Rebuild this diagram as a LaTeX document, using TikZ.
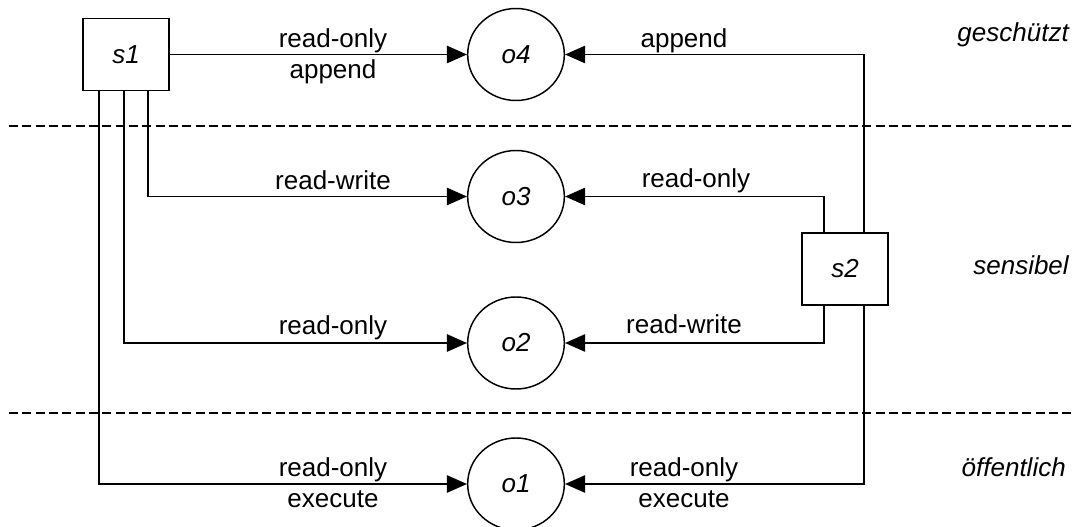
\documentclass[tikz,border=0pt]{standalone}
\usepackage{fontspec}
\setmainfont{Liberation Sans}
\usetikzlibrary{arrows.meta,shapes.geometric}

\tikzset{
  subj/.style={draw, line width=1.1pt, minimum width=64.5pt, minimum height=54pt,
               inner sep=0pt, font=\fontsize{19.5}{23}\selectfont\itshape},
  obj/.style={draw, ellipse, line width=1.1pt, minimum width=72.5pt, minimum height=69pt,
              inner sep=0pt, font=\fontsize{19.5}{23}\selectfont\itshape},
  conn/.style={line width=1.1pt, -{Triangle[length=15pt,width=13pt]}},
  lbl/.style={anchor=base, inner sep=0pt, font=\fontsize{19.5}{23}\selectfont},
  zone/.style={anchor=base east, inner sep=0pt, font=\fontsize{19.5}{23}\selectfont\itshape},
  sep/.style={line width=1.1pt, dash pattern=on 6.75pt off 3.25pt}
}

\begin{document}
\begin{tikzpicture}[x=0.75pt,y=-0.75pt]
  \useasboundingbox (0,0) rectangle (1074,527);

  % security levels
  \draw[sep] (9,126) -- (1074,126);
  \draw[sep] (9,413) -- (1074,413);
  \node[zone] (zg) at (1069,42) {geschützt};
  \node[zone] (zs) at (1069,275) {sensibel};
  \node[zone] (zo) at (1066,476) {öffentlich};

  % subjects
  \node[subj] (s1) at (126,54.5) {s1};
  \node[subj] (s2) at (845,269) {s2};

  % objects
  \node[obj] (o4) at (516,54.5) {o4};
  \node[obj] (o3) at (516,196.5) {o3};
  \node[obj] (o2) at (516,343) {o2};
  \node[obj] (o1) at (516,484) {o1};

  % accesses of s1
  \draw[conn] (s1.east) -- (o4.west);
  \draw[conn] ([xshift=16.5pt]s1.south) |- (o3.west);
  \draw[conn] ([xshift=-1.5pt]s1.south) |- (o2.west);
  \draw[conn] ([xshift=-20.25pt]s1.south) |- (o1.west);

  % accesses of s2
  \draw[conn] ([xshift=14.25pt]s2.north) |- (o4.east);
  \draw[conn] ([xshift=-15.75pt]s2.north) |- (o3.east);
  \draw[conn] ([xshift=-15.75pt]s2.south) |- (o2.east);
  \draw[conn] ([xshift=14.25pt]s2.south) |- (o1.east);

  % access rights
  \node[lbl] (a41) at (333,48) {read-only};
  \node[lbl] (a42) at (333,79) {append};
  \node[lbl] (a43) at (684,48) {append};
  \node[lbl] (a31) at (333,189.5) {read-write};
  \node[lbl] (a32) at (696,188) {read-only};
  \node[lbl] (a21) at (333,334.5) {read-only};
  \node[lbl] (a22) at (684,333) {read-write};
  \node[lbl] (a11) at (333,476) {read-only};
  \node[lbl] (a12) at (333,507) {execute};
  \node[lbl] (a13) at (684,476) {read-only};
  \node[lbl] (a14) at (684,507) {execute};
\end{tikzpicture}
\end{document}
